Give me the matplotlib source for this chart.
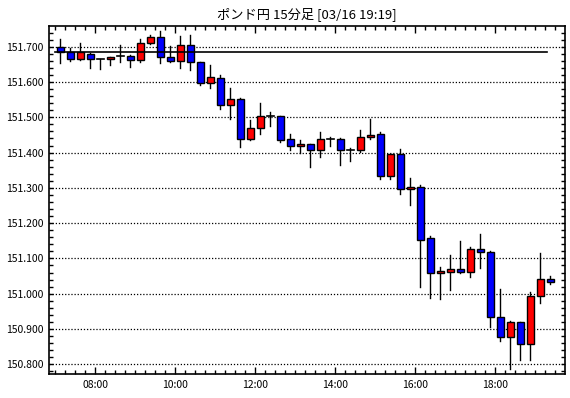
import matplotlib
matplotlib.use("Agg")
import matplotlib.pyplot as plt
from matplotlib.ticker import MultipleLocator, FuncFormatter

plt.rcParams['font.family'] = ['Noto Sans CJK JP', 'DejaVu Sans']

# 15 minute candles, first one starts at 07:00
start_hour = 7.0
opens = [151.699, 151.684, 151.665, 151.680, 151.665, 151.664, 151.673, 151.673, 151.661, 151.710,
         151.727, 151.670, 151.659, 151.704, 151.656, 151.596, 151.610, 151.534, 151.551, 151.438,
         151.469, 151.504, 151.503, 151.438, 151.418, 151.423, 151.408, 151.438, 151.438, 151.406,
         151.406, 151.443, 151.452, 151.333, 151.395, 151.296, 151.303, 151.157, 151.058, 151.062,
         151.069, 151.062, 151.127, 151.118, 150.933, 150.878, 150.919, 150.858, 150.993, 151.041]
highs = [151.722, 151.696, 151.710, 151.683, 151.666, 151.671, 151.705, 151.676, 151.722, 151.733,
         151.745, 151.702, 151.730, 151.733, 151.658, 151.648, 151.620, 151.583, 151.554, 151.492,
         151.541, 151.515, 151.504, 151.453, 151.435, 151.425, 151.459, 151.445, 151.440, 151.414,
         151.464, 151.495, 151.457, 151.395, 151.409, 151.327, 151.307, 151.163, 151.075, 151.110,
         151.149, 151.132, 151.169, 151.121, 151.012, 150.924, 150.920, 151.006, 151.115, 151.050]
lows = [151.655, 151.659, 151.662, 151.640, 151.638, 151.647, 151.658, 151.643, 151.656, 151.709,
        151.653, 151.658, 151.639, 151.635, 151.591, 151.582, 151.523, 151.494, 151.415, 151.437,
        151.452, 151.476, 151.431, 151.408, 151.398, 151.360, 151.388, 151.420, 151.364, 151.377,
        151.401, 151.438, 151.324, 151.324, 151.282, 151.252, 151.020, 150.989, 150.986, 151.011,
        151.058, 151.048, 151.074, 150.907, 150.867, 150.788, 150.813, 150.813, 150.975, 151.027]
closes = [151.684, 151.665, 151.684, 151.665, 151.665, 151.670, 151.673, 151.661, 151.710, 151.727,
          151.670, 151.659, 151.704, 151.656, 151.596, 151.613, 151.534, 151.551, 151.438, 151.469,
          151.503, 151.504, 151.436, 151.418, 151.423, 151.408, 151.438, 151.438, 151.406, 151.406,
          151.443, 151.449, 151.333, 151.395, 151.296, 151.303, 151.151, 151.058, 151.064, 151.069,
          151.062, 151.127, 151.117, 150.933, 150.878, 150.919, 150.857, 150.993, 151.041, 151.034]
ref_price = 151.684
ref_start, ref_end = 7.0, 19.3

title = "ポンド円 15分足 [03/16 19:19]"

fig = plt.figure(figsize=(5.7, 3.98), dpi=100)
ax = fig.add_axes([0.0865, 0.0603, 0.9045, 0.8737])

body_w = 0.175
for i in range(len(opens)):
    x = start_hour + 0.25 * i + 0.125
    o, h, l, c = opens[i], highs[i], lows[i], closes[i]
    ax.plot([x, x], [l, h], color="black", lw=1, zorder=2)
    if c > o:
        ax.bar(x, c - o, bottom=o, width=body_w, color="#ff0000", edgecolor="black", lw=1, zorder=3)
    elif c < o:
        ax.bar(x, o - c, bottom=c, width=body_w, color="#0000ff", edgecolor="black", lw=1, zorder=3)
    else:
        ax.plot([x - body_w / 2, x + body_w / 2], [o, o], color="black", lw=1.2, zorder=3)

ax.plot([ref_start, ref_end], [ref_price, ref_price], color="black", lw=1.2, zorder=4)

ax.set_xlim(6.85, 19.74)
ax.set_ylim(150.7725, 151.758)

ax.yaxis.set_major_locator(MultipleLocator(0.1))
ax.yaxis.set_minor_locator(MultipleLocator(0.02))
ax.yaxis.set_major_formatter(FuncFormatter(lambda v, p: f"{v:.3f}"))
ax.xaxis.set_major_locator(MultipleLocator(2))
ax.xaxis.set_minor_locator(MultipleLocator(0.25))
ax.xaxis.set_major_formatter(FuncFormatter(lambda v, p: f"{int(round(v)):02d}:00"))

ax.grid(axis="y", which="major", color="black", linestyle=(0, (1, 1.5)), lw=0.9)
ax.set_axisbelow(True)

ax.tick_params(which="both", direction="in", top=True, right=True, colors="black",
               labelsize=7.5, pad=4)
ax.tick_params(which="major", length=5, width=1)
ax.tick_params(which="minor", length=3, width=1)
ax.tick_params(axis="y", which="major", length=3)
for s in ax.spines.values():
    s.set_linewidth(1.2)

ax.set_title(title, fontsize=9.5, pad=6)

fig.savefig("out.png", dpi=100)
